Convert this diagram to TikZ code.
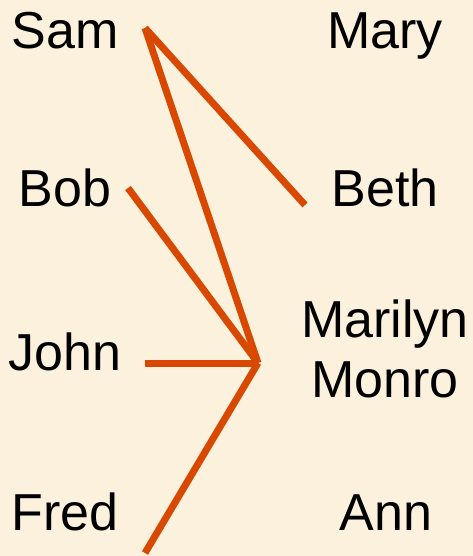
\documentclass[tikz,border=0pt]{standalone}
\usepackage{fontspec}
\setmainfont{Liberation Sans}
\definecolor{fond}{HTML}{FCF1DC}
\definecolor{trait}{HTML}{D94800}
\begin{document}
\begin{tikzpicture}[x=1pt,y=-1pt,
  nom/.style={inner sep=0pt, anchor=base, font=\fontsize{52}{60}\selectfont},
  lien/.style={line width=7pt, draw=trait}]

%% ================= fond ===================================================
\fill[fond] (0,0) rectangle (473,556);
\useasboundingbox (0,0) rectangle (473,556);

%% ================= colonne de gauche ======================================
\node[nom] (Sam)  at (65,49)  {Sam};
\node[nom] (Bob)  at (65,206) {Bob};
\node[nom] (John) at (65,370) {John};
\node[nom] (Fred) at (65,530) {Fred};

%% ================= colonne de droite ======================================
\node[nom] (Mary) at (385,49)  {Mary};
\node[nom] (Beth) at (385,206) {Beth};
\node[nom, anchor=center, align=center] (Marilyn) at (385,349) {Marilyn\\Monro};
\node[nom] (Ann)  at (386,530) {Ann};

%% ================= extrémités des traits ==================================
\coordinate (pSam)  at (145,28);
\coordinate (pBob)  at (128,188);
\coordinate (pJohn) at (145,363);
\coordinate (pFred) at (145,553);
\coordinate (pBeth) at (305,205);
\coordinate (pMar)  at (258,363);

\draw[lien] (pSam) -- (pBeth);
\draw[lien] (pSam) -- (pMar);
\draw[lien] (pBob) -- (pMar);
\draw[lien] (pJohn) -- (pMar);
\draw[lien] (pFred) -- (pMar);
\end{tikzpicture}
\end{document}
